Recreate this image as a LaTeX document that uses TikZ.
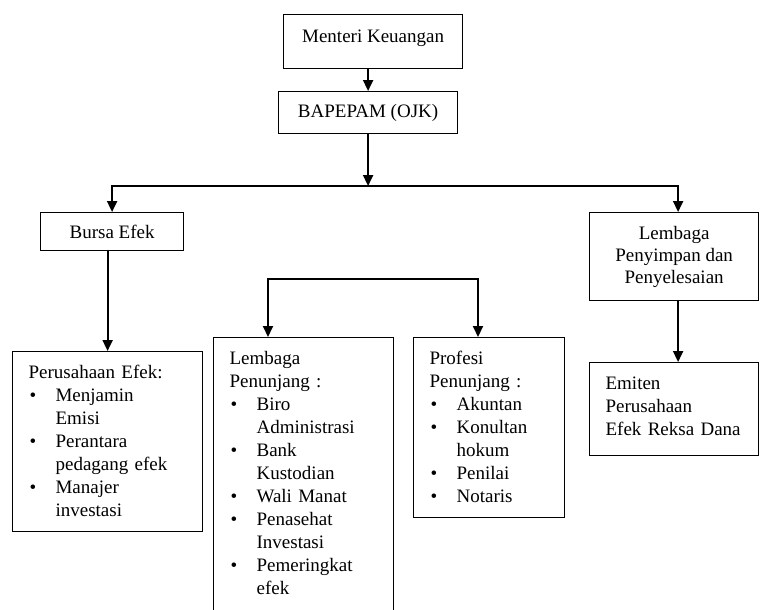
\documentclass[tikz,border=0pt]{standalone}
\usepackage{fontspec}
\setmainfont{Liberation Serif}
\usepackage{tikz}
\usetikzlibrary{arrows.meta}
\setlength{\parindent}{0pt}

% butir daftar dengan titik
\newcommand{\butir}[1]{\par\hangindent=27pt\hangafter=1\noindent\makebox[27pt][l]{\hspace{1pt}\textbullet}#1\par}

\begin{document}
\begin{tikzpicture}[x=1pt,y=-1pt,
every node/.style={anchor=north west},
kotak/.style={draw,line width=1.2pt,inner sep=0pt,align=center,font=\fontsize{19}{22}\selectfont},
daftar/.style={draw,line width=1.2pt,inner xsep=16pt,inner ysep=14pt,align=left,font=\fontsize{19}{23}\selectfont},
panah/.style={line width=2pt,line cap=rect,-{Triangle[width=10pt,length=11pt]}}
]
\useasboundingbox (0,0) rectangle (760,610);
\clip (0,0) rectangle (760,610);

% kotak atas
\path (283,14) node[kotak,minimum width=179pt,minimum height=54pt,text depth=11pt] (menteri) {Menteri Keuangan}
      (278,91) node[kotak,minimum width=179pt,minimum height=42pt] (bapepam) {BAPEPAM (OJK)}
      (40,212) node[kotak,minimum width=143pt,minimum height=38pt] (bursa) {Bursa Efek}
      (589,212) node[kotak,minimum width=169pt,minimum height=88pt] (penyimpan) {Lembaga\\Penyimpan dan\\Penyelesaian};

% kotak daftar
\path (12,351) node[daftar,text width=158pt] (perusahaan) {Perusahaan Efek:
  \butir{Menjamin\newline Emisi}
  \butir{Perantara\newline pedagang efek}
  \butir{Manajer\newline investasi}};
\path (213,337) node[daftar,text width=148pt] (lembaga) {Lembaga\newline Penunjang :
  \butir{Biro\newline Administrasi}
  \butir{Bank\newline Kustodian}
  \butir{Wali Manat}
  \butir{Penasehat\newline Investasi}
  \butir{Pemeringkat\newline efek\rule[-30pt]{0pt}{30pt}}};
\path (413,337) node[daftar,text width=119pt] (profesi) {Profesi\newline Penunjang :
  \butir{Akuntan}
  \butir{Konultan\newline hokum}
  \butir{Penilai}
  \butir{Notaris}};
\path (589,362) node[daftar,text width=137pt] (emiten) {Emiten\newline Perusahaan\newline Efek Reksa Dana\rule[-6pt]{0pt}{6pt}};

% penghubung
\coordinate (cabang) at (bapepam.south |- 0,186);
\coordinate (kiri) at (268,279);
\coordinate (kanan) at (478,279);
\draw[panah] (bapepam.north |- menteri.south) -- (bapepam.north);
\draw[panah] (bapepam.south) -- (cabang);
\draw[panah] (cabang) -| (bursa.north);
\draw[panah] (cabang) -| ([xshift=4pt]penyimpan.north);
\draw[panah] (perusahaan.north |- bursa.south) -- (perusahaan.north);
\draw[panah] ([xshift=4pt]penyimpan.south) -- ([xshift=4pt]penyimpan.south |- emiten.north);
\draw[panah] (kanan) -- (kiri) -- (kiri |- lembaga.north);
\draw[panah] (kanan) -- (kanan |- profesi.north);
\end{tikzpicture}
\end{document}
